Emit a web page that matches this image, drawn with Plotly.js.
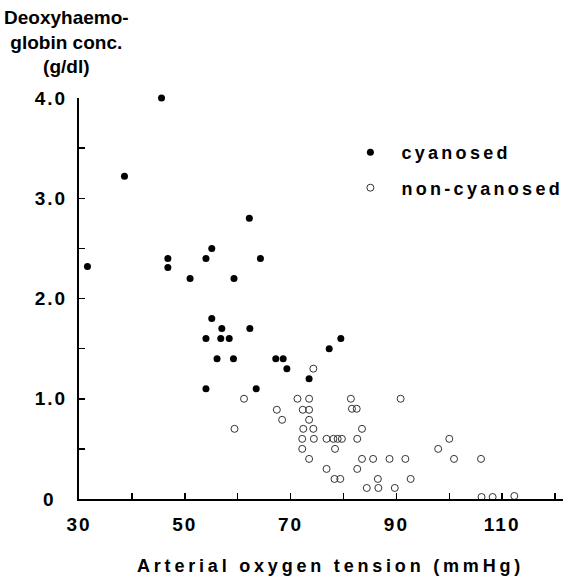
<!DOCTYPE html>
<html><head><meta charset="utf-8">
<script src="https://cdn.plot.ly/plotly-3.0.1.min.js"></script>
<style>
body{margin:0;background:#fff}
#chart{width:563px;height:578px}
.xtick text,.ytick text{letter-spacing:2px}
.legendtext{letter-spacing:3.3px}
.annotation[data-index="1"] text{letter-spacing:3.8px}
</style>
</head><body>
<div id="chart"></div>
<script>
const cyanosedX = [31.6,38.6,45.6,46.8,46.8,51.0,54.0,55.1,62.2,59.3,64.3,55.1,57.0,62.3,54.0,56.8,58.4,79.5,77.3,56.1,59.2,67.2,68.6,69.3,73.5,54.0,63.5];
const cyanosedY = [2.32,3.22,4.0,2.4,2.31,2.2,2.4,2.5,2.8,2.2,2.4,1.8,1.7,1.7,1.6,1.6,1.6,1.6,1.5,1.4,1.4,1.4,1.4,1.3,1.2,1.1,1.1];

const nonCyanosedX = [74.3,61.2,59.4,71.3,73.5,67.4,72.3,73.5,68.4,73.5,72.4,74.3,72.2,74.4,72.2,73.5,81.4,90.8,81.6,82.5,83.5,76.8,78.1,78.9,79.7,82.6,78.4,83.5,85.6,88.7,91.7,76.8,82.6,78.3,79.4,86.5,92.7,84.4,86.6,89.7,100.0,97.9,100.9,106.0,106.1,108.2,112.3];
const nonCyanosedY = [1.3,1.0,0.7,1.0,1.0,0.89,0.89,0.89,0.79,0.79,0.7,0.7,0.6,0.6,0.5,0.4,1.0,1.0,0.9,0.9,0.7,0.6,0.6,0.6,0.6,0.6,0.5,0.4,0.4,0.4,0.4,0.3,0.3,0.2,0.2,0.2,0.2,0.11,0.11,0.11,0.6,0.5,0.4,0.4,0.02,0.02,0.03];

const xTickVals = [30,50,70,90,110];
const xTickText = ['30','50','70','90','110'];
const yTickVals = [0,1,2,3,4];
const yTickText = ['0\u2002','1.0','2.0','3.0','4.0'];

const seriesNames = ['cyanosed','non-cyanosed'];
const yTitle = 'Deoxyhaemo-<br>globin conc.<br>(g/dl)';
const xTitle = 'Arterial oxygen tension (mmHg)';

const FONT = 'Liberation Sans, Arial, sans-serif';

const traces = [
  {x: cyanosedX, y: cyanosedY, name: seriesNames[0], type:'scatter', mode:'markers',
   legendgroup:'a', cliponaxis:false,
   marker:{symbol:'circle', size:7, color:'#000'}},
  {x: nonCyanosedX, y: nonCyanosedY, name: seriesNames[1], type:'scatter', mode:'markers',
   legendgroup:'b', cliponaxis:false,
   marker:{symbol:'circle-open', size:7, color:'#333', line:{width:1, color:'#333'}}}
];

const layout = {
  width:563, height:578,
  margin:{l:79, r:0, t:98, b:79, pad:0, autoexpand:false},
  paper_bgcolor:'#fff', plot_bgcolor:'#fff',
  font:{family:FONT, color:'#000'},
  showlegend:true,
  legend:{x:0.538, y:0.91, xanchor:'left', yanchor:'top', bgcolor:'rgba(0,0,0,0)',
    font:{family:FONT, size:18, weight:'bold', color:'#000'},
    itemwidth:52, traceorder:'grouped', tracegroupgap:9},
  xaxis:{range:[30,121.5], showgrid:false, zeroline:false, showline:true, linewidth:2, linecolor:'#000',
    tickmode:'array', tickvals:xTickVals, ticktext:xTickText, automargin:false,
    ticks:'inside', ticklen:6, tickwidth:1.5, tickcolor:'#000',
    minor:{dtick:10, tick0:30, ticks:'inside', ticklen:6, tickwidth:1.5, tickcolor:'#000'},
    tickfont:{family:FONT, size:19, weight:'bold'}, ticklabelstandoff:7},
  yaxis:{range:[0,4], showgrid:false, zeroline:false, showline:true, linewidth:2, linecolor:'#000',
    tickmode:'array', tickvals:yTickVals, ticktext:yTickText, automargin:false,
    ticks:'inside', ticklen:6, tickwidth:1.5, tickcolor:'#000',
    minor:{dtick:0.5, tick0:0, ticks:'inside', ticklen:6, tickwidth:1.5, tickcolor:'#000'},
    tickfont:{family:FONT, size:19, weight:'bold'}, ticklabelstandoff:6},
  annotations:[
    {text:yTitle, xref:'paper', yref:'paper', x:-0.025, y:1.14, xanchor:'center', yanchor:'middle',
     showarrow:false, align:'center', font:{family:FONT, size:19, weight:'bold', color:'#000'}},
    {text:xTitle, xref:'paper', yref:'paper', x:0.52, y:-0.167, xanchor:'center', yanchor:'middle',
     showarrow:false, font:{family:FONT, size:18, weight:'bold', color:'#000'}}
  ]
};

Plotly.newPlot('chart', traces, layout, {displayModeBar:false, staticPlot:true});
</script>
</body></html>
